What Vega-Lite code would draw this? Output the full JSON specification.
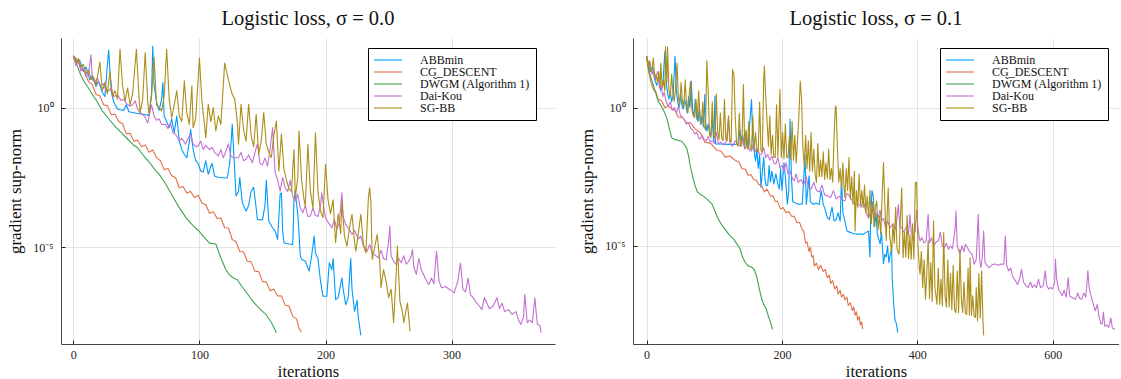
{
  "$schema": "https://vega.github.io/schema/vega-lite/v6.json",
  "background": "white",
  "padding": {"left": 6, "top": 8, "right": 0, "bottom": 0},
  "spacing": 23,
  "config": {
    "font": "Liberation Serif",
    "view": {"stroke": null},
    "range": {"category": ["#009AFA", "#E36F47", "#3EA44E", "#C371D2", "#AC8E18"]},
    "axis": {
      "labelFont": "Liberation Serif", "labelFontSize": 12, "labelColor": "#222",
      "titleFont": "Liberation Serif", "titleFontSize": 17, "titleFontWeight": "normal", "titleColor": "#111",
      "gridColor": "#e3e3e3", "gridWidth": 1,
      "domainColor": "#444", "domainWidth": 1,
      "tickColor": "#222", "tickSize": -4, "tickWidth": 1
    },
    "axisX": {"labelPadding": 9, "titlePadding": 3, "titleFontSize": 16.5, "labelFlush": false},
    "axisY": {"labelPadding": 12, "titlePadding": 8},
    "title": {"font": "Liberation Serif", "fontSize": 20.5, "fontWeight": "normal", "color": "#111", "anchor": "middle", "frame": "group", "baseline": "alphabetic", "offset": 9},
    "line": {"strokeWidth": 1.1, "strokeJoin": "round", "clip": true},
    "legend": {
      "orient": "none", "legendX": 307, "legendY": 10, "direction": "vertical",
      "fillColor": "white", "strokeColor": "black", "strokeWidth": 1, "padding": 6, "cornerRadius": 0,
      "symbolType": "M-3.5,0H3.5", "symbolSize": 64, "symbolStrokeWidth": 1.2, "symbolOffset": 8,
      "labelFont": "Liberation Serif", "labelFontSize": 12, "labelColor": "#111", "labelOffset": 26, "rowPadding": -1.2, "labelLimit": 300
    }
  },
  "datasets": {
    "a0": [{"i":0,"g":70.8},{"i":3,"g":39.8},{"i":5,"g":50.1},{"i":8,"g":20},{"i":10,"g":28.2},{"i":13,"g":10},{"i":15,"g":14.1},{"i":18,"g":5.62},{"i":20,"g":8.91},{"i":23,"g":3.55},{"i":25,"g":2.51},{"i":28,"g":115},{"i":30,"g":3.98},{"i":32,"g":1.58},{"i":35,"g":0.891},{"i":37,"g":0.832},{"i":40,"g":0.794},{"i":42,"g":1.26},{"i":44,"g":0.708},{"i":50,"g":0.631},{"i":56,"g":0.562},{"i":60,"g":0.525},{"i":62,"g":3.16},{"i":63,"g":155},{"i":64,"g":6.31},{"i":66,"g":1.58},{"i":68,"g":0.794},{"i":70,"g":2},{"i":71,"g":7.94},{"i":72,"g":0.501},{"i":74,"g":0.316},{"i":76,"g":0.191},{"i":78,"g":0.398},{"i":80,"g":0.126},{"i":82,"g":0.501},{"i":84,"g":0.0631},{"i":86,"g":0.0316},{"i":88,"g":0.0214},{"i":90,"g":0.0162},{"i":92,"g":0.0631},{"i":93,"g":0.166},{"i":95,"g":0.0316},{"i":97,"g":0.0126},{"i":99,"g":0.01},{"i":101,"g":5.37e-3},{"i":103,"g":5.01e-3},{"i":105,"g":0.0126},{"i":107,"g":4.07e-3},{"i":109,"g":7.94e-3},{"i":110,"g":0.01},{"i":112,"g":3.55e-3},{"i":115,"g":3.16e-3},{"i":118,"g":3.09e-3},{"i":122,"g":3.02e-3},{"i":124,"g":0.01},{"i":126,"g":0.251},{"i":128,"g":5.01e-3},{"i":129,"g":6.92e-4},{"i":131,"g":1e-3},{"i":132,"g":3.16e-3},{"i":134,"g":3.98e-4},{"i":137,"g":2e-4},{"i":139,"g":3.16e-4},{"i":141,"g":1e-3},{"i":143,"g":1.41e-3},{"i":145,"g":2.51e-4},{"i":146,"g":1e-4},{"i":150,"g":9.55e-5},{"i":152,"g":3.16e-4},{"i":153,"g":2.51e-3},{"i":155,"g":8.71e-5},{"i":158,"g":5.01e-5},{"i":160,"g":3.8e-5},{"i":162,"g":1.91e-5},{"i":164,"g":7.94e-4},{"i":165,"g":8.91e-4},{"i":166,"g":3.98e-5},{"i":167,"g":1.45e-5},{"i":171,"g":1.32e-5},{"i":174,"g":1.26e-5},{"i":175,"g":4.57e-4},{"i":176,"g":1e-3},{"i":178,"g":1.58e-4},{"i":180,"g":5.01e-6},{"i":181,"g":3.72e-6},{"i":184,"g":3.16e-6},{"i":187,"g":1.41e-6},{"i":189,"g":5.01e-6},{"i":191,"g":2.51e-5},{"i":192,"g":6.31e-6},{"i":194,"g":3.98e-6},{"i":196,"g":6.31e-7},{"i":198,"g":1.78e-7},{"i":201,"g":1.78e-7},{"i":203,"g":2.82e-6},{"i":205,"g":1.58e-6},{"i":206,"g":3.98e-6},{"i":208,"g":1.35e-7},{"i":210,"g":1.58e-7},{"i":213,"g":8.13e-7},{"i":214,"g":3.16e-7},{"i":216,"g":8.91e-8},{"i":218,"g":1.58e-7},{"i":220,"g":3.98e-6},{"i":221,"g":3.16e-7},{"i":223,"g":5.13e-8},{"i":225,"g":1.26e-7},{"i":226,"g":3.16e-8},{"i":228,"g":7.08e-9}],
    "c0": [{"i":0,"g":70.8},{"i":3,"g":52.5},{"i":6,"g":24},{"i":9,"g":19.1},{"i":12,"g":8.51},{"i":15,"g":6.61},{"i":18,"g":2.95},{"i":21,"g":2.63},{"i":24,"g":1.26},{"i":27,"g":1.15},{"i":30,"g":0.562},{"i":33,"g":0.575},{"i":36,"g":0.316},{"i":39,"g":0.263},{"i":42,"g":0.117},{"i":45,"g":0.12},{"i":48,"g":0.0631},{"i":51,"g":0.0676},{"i":54,"g":0.0398},{"i":57,"g":0.0457},{"i":60,"g":0.0251},{"i":63,"g":0.0302},{"i":66,"g":0.0158},{"i":69,"g":0.0126},{"i":72,"g":6.03e-3},{"i":75,"g":6.61e-3},{"i":78,"g":3.63e-3},{"i":81,"g":3.16e-3},{"i":84,"g":1.35e-3},{"i":87,"g":1.51e-3},{"i":90,"g":8.71e-4},{"i":93,"g":1e-3},{"i":96,"g":6.03e-4},{"i":99,"g":7.24e-4},{"i":102,"g":3.8e-4},{"i":105,"g":3.39e-4},{"i":108,"g":1.66e-4},{"i":111,"g":1.86e-4},{"i":114,"g":1.07e-4},{"i":117,"g":1.12e-4},{"i":120,"g":5.01e-5},{"i":123,"g":4.9e-5},{"i":126,"g":1.91e-5},{"i":129,"g":1.58e-5},{"i":132,"g":7.08e-6},{"i":135,"g":6.76e-6},{"i":138,"g":3.16e-6},{"i":141,"g":3.02e-6},{"i":144,"g":1.41e-6},{"i":147,"g":1.35e-6},{"i":150,"g":6.03e-7},{"i":153,"g":5.75e-7},{"i":156,"g":2.82e-7},{"i":159,"g":3.16e-7},{"i":162,"g":1.82e-7},{"i":165,"g":1.86e-7},{"i":168,"g":8.51e-8},{"i":171,"g":7.94e-8},{"i":174,"g":3.39e-8},{"i":177,"g":2.75e-8},{"i":179,"g":1.26e-8},{"i":181,"g":9.33e-9}],
    "d0": [{"i":0,"g":70.8},{"i":3,"g":31.6},{"i":6,"g":14.1},{"i":9,"g":7.94},{"i":12,"g":5.01},{"i":15,"g":3.02},{"i":19,"g":1.58},{"i":23,"g":0.759},{"i":28,"g":0.398},{"i":34,"g":0.191},{"i":38,"g":0.126},{"i":42,"g":0.0832},{"i":48,"g":0.0447},{"i":51,"g":0.0363},{"i":55,"g":0.0209},{"i":61,"g":0.01},{"i":65,"g":5.75e-3},{"i":68,"g":4.17e-3},{"i":73,"g":1.91e-3},{"i":79,"g":6.31e-4},{"i":84,"g":2.63e-4},{"i":89,"g":1.2e-4},{"i":94,"g":6.61e-5},{"i":100,"g":3.63e-5},{"i":104,"g":2.24e-5},{"i":108,"g":1.41e-5},{"i":113,"g":1.32e-5},{"i":117,"g":4.17e-6},{"i":121,"g":1.58e-6},{"i":124,"g":1e-6},{"i":127,"g":7.94e-7},{"i":130,"g":6.92e-7},{"i":134,"g":3.8e-7},{"i":137,"g":2.51e-7},{"i":141,"g":1.41e-7},{"i":145,"g":8.5e-8},{"i":149,"g":5.62e-8},{"i":153,"g":3.8e-8},{"i":157,"g":2.09e-8},{"i":161,"g":8.71e-9}],
    "k0": [{"i":0,"g":70.8},{"i":2,"g":31.6},{"i":4,"g":50.1},{"i":6,"g":20},{"i":8,"g":25.1},{"i":10,"g":12.6},{"i":12,"g":15.8},{"i":14,"g":77.6},{"i":15,"g":10},{"i":17,"g":7.94},{"i":19,"g":11.2},{"i":21,"g":6.31},{"i":24,"g":7.08},{"i":26,"g":3.98},{"i":28,"g":3.98},{"i":30,"g":5.01},{"i":32,"g":2.51},{"i":35,"g":2.82},{"i":38,"g":1.78},{"i":40,"g":2},{"i":42,"g":1.41},{"i":45,"g":1.12},{"i":47,"g":1.26},{"i":49,"g":1.74},{"i":51,"g":0.891},{"i":53,"g":0.631},{"i":55,"g":0.575},{"i":57,"g":0.447},{"i":59,"g":0.282},{"i":61,"g":0.794},{"i":62,"g":1.26},{"i":64,"g":0.501},{"i":66,"g":0.355},{"i":68,"g":0.398},{"i":70,"g":0.251},{"i":73,"g":0.251},{"i":75,"g":0.178},{"i":77,"g":0.282},{"i":79,"g":0.126},{"i":81,"g":0.112},{"i":84,"g":0.0646},{"i":86,"g":0.0794},{"i":89,"g":0.049},{"i":91,"g":0.0794},{"i":93,"g":0.112},{"i":95,"g":0.0501},{"i":97,"g":0.0398},{"i":99,"g":0.0427},{"i":101,"g":0.0631},{"i":103,"g":0.0316},{"i":105,"g":0.0447},{"i":108,"g":0.0316},{"i":110,"g":0.0372},{"i":112,"g":0.0251},{"i":115,"g":0.0186},{"i":117,"g":0.0316},{"i":119,"g":0.0158},{"i":121,"g":0.0282},{"i":123,"g":0.0501},{"i":125,"g":0.0178},{"i":128,"g":0.0158},{"i":131,"g":0.0162},{"i":133,"g":0.0251},{"i":135,"g":0.0126},{"i":137,"g":0.0141},{"i":139,"g":0.02},{"i":142,"g":0.0107},{"i":144,"g":0.0251},{"i":146,"g":0.0501},{"i":148,"g":0.01},{"i":150,"g":8.91e-3},{"i":152,"g":0.0158},{"i":154,"g":7.94e-3},{"i":156,"g":0.0316},{"i":158,"g":0.191},{"i":160,"g":5.01e-3},{"i":162,"g":2.51e-3},{"i":164,"g":1.02e-3},{"i":166,"g":3.16e-3},{"i":168,"g":1.35e-3},{"i":170,"g":1e-3},{"i":172,"g":2.51e-3},{"i":174,"g":6.31e-4},{"i":176,"g":4.57e-4},{"i":178,"g":7.94e-4},{"i":180,"g":2.51e-4},{"i":182,"g":1.74e-4},{"i":184,"g":3.16e-4},{"i":186,"g":1.26e-4},{"i":188,"g":1.32e-4},{"i":190,"g":2.51e-4},{"i":192,"g":1.41e-4},{"i":194,"g":1.26e-4},{"i":196,"g":3.16e-4},{"i":197,"g":8.91e-4},{"i":199,"g":2e-4},{"i":200,"g":1.15e-4},{"i":202,"g":7.94e-5},{"i":205,"g":5.01e-5},{"i":207,"g":1e-4},{"i":209,"g":4.47e-5},{"i":211,"g":7.94e-5},{"i":213,"g":8.91e-4},{"i":214,"g":1.26e-4},{"i":216,"g":6.61e-5},{"i":218,"g":5.01e-5},{"i":221,"g":2.88e-5},{"i":223,"g":3.98e-5},{"i":226,"g":2e-5},{"i":228,"g":2.51e-5},{"i":230,"g":1.12e-5},{"i":233,"g":7.24e-6},{"i":235,"g":1.26e-5},{"i":237,"g":6.31e-6},{"i":240,"g":5.01e-6},{"i":242,"g":4.17e-6},{"i":244,"g":7.94e-6},{"i":246,"g":3.98e-6},{"i":248,"g":3.55e-6},{"i":250,"g":1.58e-5},{"i":251,"g":5.75e-5},{"i":252,"g":5.01e-6},{"i":254,"g":3.16e-6},{"i":256,"g":2.45e-6},{"i":258,"g":3.98e-6},{"i":260,"g":2.82e-6},{"i":262,"g":5.01e-6},{"i":264,"g":2.51e-6},{"i":266,"g":3.16e-6},{"i":268,"g":5.01e-6},{"i":269,"g":8.32e-6},{"i":270,"g":2e-6},{"i":272,"g":1.07e-6},{"i":274,"g":3.98e-6},{"i":276,"g":1.58e-6},{"i":278,"g":1e-6},{"i":280,"g":6.31e-7},{"i":282,"g":4.68e-7},{"i":284,"g":7.94e-7},{"i":286,"g":5.01e-7},{"i":288,"g":7.24e-6},{"i":290,"g":6.31e-7},{"i":292,"g":3.55e-7},{"i":295,"g":3.98e-7},{"i":298,"g":3.16e-7},{"i":300,"g":2.82e-7},{"i":302,"g":2.34e-7},{"i":305,"g":6.31e-7},{"i":307,"g":2.75e-6},{"i":309,"g":3.16e-7},{"i":311,"g":2.51e-7},{"i":313,"g":7.94e-7},{"i":315,"g":2e-7},{"i":317,"g":1.58e-7},{"i":320,"g":1e-7},{"i":322,"g":7.94e-8},{"i":324,"g":5.89e-8},{"i":326,"g":1.58e-7},{"i":328,"g":1e-7},{"i":330,"g":6.31e-8},{"i":333,"g":7.94e-8},{"i":336,"g":1.58e-7},{"i":338,"g":6.31e-8},{"i":340,"g":1e-7},{"i":342,"g":5.01e-8},{"i":345,"g":5.89e-8},{"i":348,"g":3.98e-8},{"i":351,"g":5.01e-8},{"i":353,"g":2.51e-8},{"i":355,"g":1.74e-8},{"i":357,"g":3.16e-8},{"i":358,"g":2.04e-7},{"i":360,"g":2e-8},{"i":362,"g":2.51e-8},{"i":364,"g":2e-8},{"i":366,"g":1.55e-7},{"i":368,"g":1.78e-8},{"i":370,"g":1.58e-8},{"i":371,"g":8.71e-9}],
    "s0": [{"i":0,"g":70.8},{"i":2,"g":39.8},{"i":4,"g":56.2},{"i":6,"g":28.2},{"i":8,"g":35.5},{"i":10,"g":15.8},{"i":12,"g":22.4},{"i":14,"g":10},{"i":16,"g":12.6},{"i":18,"g":6.31},{"i":21,"g":42.7},{"i":23,"g":3.98},{"i":25,"g":7.94},{"i":27,"g":3.16},{"i":29,"g":20},{"i":31,"g":2.51},{"i":33,"g":3.98},{"i":35,"g":2},{"i":37,"g":123},{"i":39,"g":6.31},{"i":41,"g":1.74},{"i":43,"g":5.01},{"i":45,"g":1.26},{"i":47,"g":3.16},{"i":50,"g":123},{"i":52,"g":2.51},{"i":53,"g":0.661},{"i":55,"g":2},{"i":57,"g":93.3},{"i":59,"g":1.58},{"i":60,"g":0.575},{"i":62,"g":2.51},{"i":64,"g":63.1},{"i":66,"g":1.26},{"i":68,"g":1},{"i":70,"g":0.759},{"i":72,"g":2.51},{"i":74,"g":123},{"i":76,"g":2},{"i":78,"g":0.437},{"i":80,"g":1.26},{"i":82,"g":3.98},{"i":84,"g":0.501},{"i":86,"g":0.316},{"i":88,"g":9.12},{"i":90,"g":0.631},{"i":92,"g":0.251},{"i":94,"g":6.03},{"i":95,"g":0.191},{"i":97,"g":0.398},{"i":100,"g":58.9},{"i":102,"g":1.58},{"i":104,"g":0.251},{"i":105,"g":0.0832},{"i":107,"g":1.32},{"i":109,"g":0.316},{"i":111,"g":1},{"i":113,"g":0.145},{"i":115,"g":0.501},{"i":117,"g":0.251},{"i":120,"g":38.9},{"i":122,"g":15.8},{"i":124,"g":6.31},{"i":126,"g":3.02},{"i":128,"g":2},{"i":130,"g":0.316},{"i":131,"g":0.049},{"i":133,"g":1.32},{"i":135,"g":0.158},{"i":137,"g":0.0631},{"i":139,"g":1.32},{"i":141,"g":0.1},{"i":143,"g":0.0398},{"i":145,"g":0.575},{"i":147,"g":0.0214},{"i":149,"g":0.0631},{"i":151,"g":0.661},{"i":153,"g":0.0501},{"i":155,"g":0.0251},{"i":157,"g":0.0162},{"i":159,"g":0.1},{"i":161,"g":0.331},{"i":163,"g":5.37e-3},{"i":165,"g":0.112},{"i":167,"g":6.31e-3},{"i":169,"g":2.51e-3},{"i":171,"g":1.26e-3},{"i":173,"g":1e-3},{"i":175,"g":0.0316},{"i":176,"g":5.89e-4},{"i":178,"g":3.16e-3},{"i":179,"g":0.145},{"i":181,"g":2.51e-3},{"i":183,"g":5.01e-4},{"i":184,"g":3.02e-4},{"i":186,"g":0.049},{"i":188,"g":1e-3},{"i":190,"g":2.51e-4},{"i":192,"g":0.126},{"i":194,"g":1e-3},{"i":196,"g":2e-4},{"i":198,"g":1.15e-4},{"i":200,"g":9.33e-3},{"i":202,"g":5.01e-4},{"i":204,"g":1.58e-4},{"i":206,"g":5.01e-4},{"i":208,"g":1.45e-5},{"i":210,"g":1.58e-4},{"i":212,"g":3.16e-5},{"i":213,"g":4.57e-4},{"i":215,"g":2.51e-5},{"i":217,"g":1.1e-5},{"i":219,"g":5.01e-5},{"i":221,"g":1.51e-4},{"i":223,"g":1.58e-5},{"i":224,"g":7.24e-6},{"i":226,"g":3.16e-5},{"i":228,"g":1.51e-4},{"i":230,"g":1.26e-5},{"i":232,"g":6.31e-6},{"i":234,"g":5.89e-4},{"i":235,"g":1.35e-3},{"i":236,"g":3.98e-4},{"i":237,"g":3.72e-6},{"i":239,"g":1e-5},{"i":241,"g":2.88e-5},{"i":243,"g":3.16e-6},{"i":244,"g":3.55e-7},{"i":246,"g":1.58e-6},{"i":248,"g":6.31e-7},{"i":250,"g":1.58e-7},{"i":252,"g":3.16e-7},{"i":254,"g":2e-8},{"i":256,"g":1e-6},{"i":257,"g":1.1e-5},{"i":259,"g":1.17e-7},{"i":261,"g":5.01e-8},{"i":262,"g":2e-8},{"i":264,"g":6.31e-8},{"i":265,"g":1.02e-7},{"i":267,"g":1e-8}],
    "a1": [{"i":0,"g":70.8},{"i":3,"g":31.6},{"i":6,"g":20},{"i":9,"g":28.2},{"i":12,"g":10},{"i":15,"g":6.31},{"i":18,"g":12.6},{"i":21,"g":3.98},{"i":24,"g":6.31},{"i":27,"g":107},{"i":29,"g":7.94},{"i":31,"g":3.16},{"i":33,"g":2},{"i":35,"g":3.98},{"i":37,"g":1.58},{"i":39,"g":2.51},{"i":42,"g":70.8},{"i":44,"g":3.98},{"i":46,"g":1.58},{"i":48,"g":1},{"i":50,"g":3.16},{"i":52,"g":1.26},{"i":54,"g":0.871},{"i":56,"g":2},{"i":58,"g":1.26},{"i":60,"g":0.631},{"i":62,"g":2.51},{"i":64,"g":1},{"i":66,"g":8.91},{"i":68,"g":0.794},{"i":70,"g":0.501},{"i":72,"g":2},{"i":74,"g":0.398},{"i":76,"g":0.316},{"i":78,"g":1},{"i":80,"g":0.251},{"i":82,"g":0.501},{"i":84,"g":0.2},{"i":86,"g":2.95},{"i":87,"g":0.316},{"i":89,"g":0.141},{"i":91,"g":0.251},{"i":93,"g":0.126},{"i":95,"g":0.1},{"i":97,"g":0.398},{"i":99,"g":0.0631},{"i":101,"g":2.57},{"i":102,"g":0.0479},{"i":110,"g":0.0479},{"i":120,"g":0.0468},{"i":130,"g":0.0468},{"i":136,"g":0.0479},{"i":138,"g":0.158},{"i":140,"g":0.0631},{"i":142,"g":0.1},{"i":144,"g":0.0398},{"i":146,"g":0.126},{"i":148,"g":0.0398},{"i":150,"g":0.0355},{"i":152,"g":0.2},{"i":155,"g":1.95},{"i":157,"g":0.0631},{"i":159,"g":0.0251},{"i":161,"g":0.0117},{"i":163,"g":0.0316},{"i":165,"g":6.31e-3},{"i":167,"g":0.02},{"i":169,"g":1.29e-3},{"i":171,"g":5.01e-3},{"i":173,"g":0.0158},{"i":175,"g":2.51e-3},{"i":177,"g":1.48e-3},{"i":179,"g":1.58e-3},{"i":181,"g":7.94e-3},{"i":183,"g":2e-3},{"i":185,"g":5.01e-3},{"i":188,"g":1.74e-3},{"i":191,"g":3.98e-3},{"i":194,"g":1.74e-3},{"i":196,"g":1.12e-3},{"i":198,"g":6.31e-3},{"i":200,"g":1e-3},{"i":203,"g":0.01},{"i":205,"g":3.16e-3},{"i":208,"g":3.24e-4},{"i":210,"g":1e-3},{"i":212,"g":0.38},{"i":214,"g":3.16e-3},{"i":216,"g":3.98e-4},{"i":220,"g":3.55e-4},{"i":225,"g":3.16e-4},{"i":230,"g":3.31e-4},{"i":234,"g":0.0182},{"i":236,"g":3.16e-4},{"i":238,"g":1e-3},{"i":240,"g":3.39e-3},{"i":242,"g":3.98e-4},{"i":246,"g":3.16e-4},{"i":250,"g":3.55e-4},{"i":255,"g":3.16e-4},{"i":258,"g":1e-3},{"i":261,"g":3.24e-4},{"i":264,"g":2e-4},{"i":267,"g":1.05e-4},{"i":270,"g":8.91e-5},{"i":274,"g":2.51e-4},{"i":277,"g":7.94e-5},{"i":280,"g":8.91e-5},{"i":283,"g":1.58e-4},{"i":286,"g":7.94e-5},{"i":288,"g":2.95e-3},{"i":290,"g":1.58e-4},{"i":293,"g":7.94e-5},{"i":296,"g":3.47e-5},{"i":300,"g":3.16e-5},{"i":305,"g":2.82e-5},{"i":310,"g":2.63e-5},{"i":315,"g":2.75e-5},{"i":320,"g":2.63e-5},{"i":325,"g":3.16e-5},{"i":328,"g":3.47e-5},{"i":330,"g":3.98e-6},{"i":331,"g":1e-4},{"i":333,"g":1e-3},{"i":335,"g":6.31e-4},{"i":337,"g":5.01e-5},{"i":339,"g":1.58e-4},{"i":341,"g":2.51e-5},{"i":345,"g":1.2e-5},{"i":347,"g":3.16e-5},{"i":350,"g":2.29e-6},{"i":352,"g":5.01e-6},{"i":354,"g":3.98e-6},{"i":356,"g":1e-5},{"i":358,"g":2.51e-6},{"i":360,"g":5.01e-6},{"i":362,"g":7.94e-6},{"i":363,"g":6.31e-7},{"i":365,"g":8.32e-8},{"i":367,"g":2.09e-8},{"i":369,"g":1.58e-8},{"i":371,"g":7.59e-9}],
    "c1": [{"i":0,"g":70.8},{"i":3,"g":20},{"i":6,"g":8.91},{"i":10,"g":4.47},{"i":14,"g":3.55},{"i":17,"g":2},{"i":22,"g":1.74},{"i":27,"g":1},{"i":32,"g":1.12},{"i":37,"g":0.891},{"i":42,"g":0.794},{"i":47,"g":0.447},{"i":53,"g":0.437},{"i":59,"g":0.282},{"i":65,"g":0.282},{"i":72,"g":0.166},{"i":79,"g":0.126},{"i":86,"g":0.0562},{"i":95,"g":0.0501},{"i":104,"g":0.0282},{"i":110,"g":0.0269},{"i":116,"g":0.0162},{"i":123,"g":0.0178},{"i":131,"g":0.0123},{"i":136,"g":0.0112},{"i":141,"g":6.17e-3},{"i":146,"g":5.89e-3},{"i":150,"g":3.55e-3},{"i":154,"g":3.8e-3},{"i":158,"g":2.51e-3},{"i":162,"g":2.4e-3},{"i":165,"g":1.74e-3},{"i":170,"g":1.48e-3},{"i":174,"g":8.91e-4},{"i":178,"g":1.12e-3},{"i":183,"g":6.31e-4},{"i":187,"g":6.31e-4},{"i":190,"g":3.98e-4},{"i":193,"g":4.17e-4},{"i":198,"g":2.19e-4},{"i":202,"g":2.4e-4},{"i":206,"g":1.58e-4},{"i":210,"g":1.74e-4},{"i":214,"g":1.2e-4},{"i":218,"g":1.17e-4},{"i":222,"g":7.08e-5},{"i":226,"g":7.08e-5},{"i":230,"g":3.8e-5},{"i":232,"g":3.55e-5},{"i":235,"g":1.26e-5},{"i":237,"g":1.41e-5},{"i":240,"g":6.31e-6},{"i":242,"g":8.91e-6},{"i":244,"g":3.98e-6},{"i":246,"g":4.47e-6},{"i":248,"g":1.91e-6},{"i":251,"g":2.4e-6},{"i":254,"g":1.41e-6},{"i":257,"g":2e-6},{"i":261,"g":1.2e-6},{"i":264,"g":1.41e-6},{"i":267,"g":7.08e-7},{"i":270,"g":8.91e-7},{"i":272,"g":4.47e-7},{"i":275,"g":5.62e-7},{"i":278,"g":2.82e-7},{"i":281,"g":3.55e-7},{"i":283,"g":1.86e-7},{"i":286,"g":2.51e-7},{"i":288,"g":1.41e-7},{"i":291,"g":1.78e-7},{"i":293,"g":1.12e-7},{"i":296,"g":1.41e-7},{"i":298,"g":7.08e-8},{"i":301,"g":8.91e-8},{"i":304,"g":4.68e-8},{"i":306,"g":6.31e-8},{"i":308,"g":3.16e-8},{"i":310,"g":4.17e-8},{"i":312,"g":2.09e-8},{"i":314,"g":2.82e-8},{"i":316,"g":1.41e-8},{"i":318,"g":1.78e-8},{"i":319,"g":9.77e-9}],
    "d1": [{"i":0,"g":70.8},{"i":2,"g":31.6},{"i":5,"g":15.5},{"i":8,"g":8.91},{"i":12,"g":4.47},{"i":15,"g":2.51},{"i":17,"g":1.7},{"i":20,"g":1.32},{"i":22,"g":1.12},{"i":26,"g":0.708},{"i":30,"g":0.398},{"i":33,"g":0.2},{"i":37,"g":0.0813},{"i":41,"g":0.0708},{"i":46,"g":0.0661},{"i":52,"g":0.0603},{"i":56,"g":0.0447},{"i":59,"g":0.0355},{"i":62,"g":0.0178},{"i":64,"g":9.12e-3},{"i":68,"g":3.16e-3},{"i":72,"g":1.41e-3},{"i":75,"g":8.91e-4},{"i":79,"g":7.41e-4},{"i":84,"g":6.31e-4},{"i":88,"g":5.25e-4},{"i":93,"g":3.98e-4},{"i":97,"g":3.16e-4},{"i":101,"g":1.78e-4},{"i":105,"g":1.05e-4},{"i":110,"g":6.31e-5},{"i":116,"g":3.98e-5},{"i":122,"g":2.51e-5},{"i":129,"g":1.74e-5},{"i":134,"g":1.12e-5},{"i":138,"g":7.94e-6},{"i":142,"g":3.8e-6},{"i":146,"g":2.51e-6},{"i":150,"g":1.91e-6},{"i":155,"g":1.74e-6},{"i":159,"g":1.41e-6},{"i":163,"g":7.24e-7},{"i":167,"g":2.51e-7},{"i":171,"g":1.02e-7},{"i":174,"g":7.08e-8},{"i":177,"g":5.13e-8},{"i":180,"g":2.82e-8},{"i":183,"g":1.78e-8},{"i":186,"g":9.77e-9}],
    "k1": [{"i":0,"g":70.8},{"i":3,"g":31.6},{"i":5,"g":44.7},{"i":8,"g":15.8},{"i":10,"g":22.4},{"i":13,"g":10},{"i":15,"g":15.8},{"i":17,"g":20.4},{"i":19,"g":5.01},{"i":21,"g":6.31},{"i":24,"g":2.51},{"i":26,"g":3.55},{"i":29,"g":1.58},{"i":32,"g":1.12},{"i":35,"g":1.58},{"i":38,"g":0.794},{"i":41,"g":1},{"i":44,"g":0.631},{"i":47,"g":1.12},{"i":50,"g":0.501},{"i":53,"g":0.447},{"i":56,"g":0.355},{"i":59,"g":0.251},{"i":62,"g":0.282},{"i":65,"g":0.178},{"i":68,"g":0.158},{"i":71,"g":0.11},{"i":74,"g":0.126},{"i":77,"g":0.0794},{"i":79,"g":0.0724},{"i":82,"g":0.1},{"i":85,"g":0.0708},{"i":88,"g":0.0631},{"i":91,"g":0.0891},{"i":94,"g":0.0562},{"i":97,"g":0.0631},{"i":100,"g":0.0501},{"i":103,"g":0.126},{"i":106,"g":0.0501},{"i":110,"g":0.0562},{"i":114,"g":0.0447},{"i":118,"g":0.0631},{"i":121,"g":0.427},{"i":123,"g":0.0501},{"i":127,"g":0.0398},{"i":131,"g":0.0631},{"i":135,"g":0.0479},{"i":139,"g":0.0398},{"i":142,"g":0.0794},{"i":145,"g":0.0316},{"i":149,"g":0.0447},{"i":152,"g":0.0282},{"i":155,"g":0.0269},{"i":158,"g":0.0501},{"i":161,"g":0.0251},{"i":164,"g":0.0316},{"i":167,"g":0.02},{"i":170,"g":0.0209},{"i":173,"g":0.0355},{"i":176,"g":0.0155},{"i":179,"g":0.02},{"i":182,"g":0.0126},{"i":185,"g":0.0178},{"i":188,"g":0.01},{"i":191,"g":9.12e-3},{"i":194,"g":0.0158},{"i":197,"g":6.76e-3},{"i":200,"g":7.94e-3},{"i":203,"g":5.01e-3},{"i":206,"g":0.01},{"i":209,"g":3.98e-3},{"i":212,"g":5.01e-3},{"i":215,"g":2.95e-3},{"i":218,"g":2.24e-3},{"i":221,"g":3.98e-3},{"i":224,"g":2e-3},{"i":228,"g":2.51e-3},{"i":232,"g":1.58e-3},{"i":236,"g":3.16e-3},{"i":239,"g":1.32e-3},{"i":243,"g":1.12e-3},{"i":247,"g":2e-3},{"i":251,"g":1e-3},{"i":255,"g":8.91e-4},{"i":259,"g":1.58e-3},{"i":263,"g":7.08e-4},{"i":268,"g":6.31e-4},{"i":272,"g":5.62e-4},{"i":276,"g":1e-3},{"i":280,"g":5.01e-4},{"i":285,"g":6.31e-4},{"i":289,"g":4.47e-4},{"i":293,"g":4.27e-4},{"i":296,"g":7.94e-4},{"i":298,"g":7.24e-4},{"i":302,"g":5.01e-4},{"i":306,"g":3.55e-4},{"i":309,"g":3.24e-4},{"i":313,"g":3.16e-4},{"i":317,"g":2.51e-4},{"i":320,"g":5.01e-4},{"i":324,"g":1.58e-4},{"i":328,"g":1.05e-4},{"i":331,"g":1.58e-4},{"i":335,"g":2.75e-4},{"i":338,"g":1.26e-4},{"i":342,"g":1.05e-4},{"i":345,"g":2e-4},{"i":347,"g":7.94e-5},{"i":350,"g":1e-4},{"i":353,"g":5.01e-5},{"i":356,"g":7.94e-5},{"i":360,"g":4.57e-5},{"i":364,"g":6.31e-5},{"i":368,"g":3.98e-5},{"i":372,"g":3.16e-4},{"i":374,"g":5.01e-5},{"i":377,"g":4.57e-5},{"i":380,"g":3.16e-5},{"i":384,"g":5.01e-5},{"i":387,"g":2.51e-5},{"i":389,"g":1.38e-4},{"i":391,"g":3.16e-5},{"i":394,"g":2e-5},{"i":397,"g":3.47e-5},{"i":399,"g":2e-4},{"i":401,"g":3.98e-5},{"i":404,"g":1.51e-5},{"i":407,"g":2e-5},{"i":410,"g":1.26e-5},{"i":413,"g":1.58e-5},{"i":416,"g":1.38e-4},{"i":418,"g":1.26e-5},{"i":421,"g":2e-5},{"i":424,"g":1e-5},{"i":428,"g":1.41e-5},{"i":431,"g":1.51e-5},{"i":434,"g":3.16e-5},{"i":437,"g":1e-5},{"i":440,"g":8.91e-6},{"i":443,"g":1.26e-5},{"i":446,"g":7.59e-6},{"i":449,"g":1e-5},{"i":452,"g":7.94e-6},{"i":456,"g":4.57e-5},{"i":457,"g":1.86e-4},{"i":459,"g":1e-5},{"i":463,"g":5.01e-6},{"i":466,"g":1e-5},{"i":469,"g":6.31e-6},{"i":471,"g":1.15e-5},{"i":475,"g":7.94e-6},{"i":478,"g":5.75e-6},{"i":481,"g":5.01e-6},{"i":484,"g":2.19e-6},{"i":487,"g":3.16e-6},{"i":490,"g":1.38e-4},{"i":492,"g":3.16e-6},{"i":494,"g":1.66e-6},{"i":496,"g":3.98e-6},{"i":498,"g":3.47e-5},{"i":500,"g":2.51e-6},{"i":503,"g":2e-6},{"i":506,"g":1.66e-6},{"i":510,"g":2e-6},{"i":513,"g":2.24e-6},{"i":516,"g":2.19e-6},{"i":520,"g":2e-6},{"i":524,"g":2.24e-6},{"i":528,"g":2.19e-6},{"i":530,"g":2.29e-5},{"i":532,"g":2e-6},{"i":535,"g":1.26e-6},{"i":538,"g":1.58e-6},{"i":541,"g":7.94e-7},{"i":545,"g":5.5e-7},{"i":548,"g":4.07e-7},{"i":551,"g":6.31e-7},{"i":554,"g":1.45e-6},{"i":557,"g":5.01e-7},{"i":561,"g":3.55e-7},{"i":564,"g":3.16e-7},{"i":567,"g":5.01e-7},{"i":570,"g":3.09e-7},{"i":573,"g":3.98e-7},{"i":576,"g":3.16e-7},{"i":579,"g":6.31e-7},{"i":582,"g":3.16e-7},{"i":586,"g":3.55e-7},{"i":589,"g":1.26e-6},{"i":591,"g":3.98e-7},{"i":594,"g":2.75e-7},{"i":597,"g":3.16e-7},{"i":600,"g":2.82e-7},{"i":603,"g":5.01e-7},{"i":604,"g":3.31e-6},{"i":606,"g":6.31e-7},{"i":609,"g":2.51e-7},{"i":612,"g":2e-7},{"i":614,"g":1.58e-7},{"i":617,"g":2.51e-7},{"i":620,"g":1.41e-7},{"i":623,"g":7.24e-7},{"i":625,"g":1.58e-7},{"i":628,"g":1.41e-7},{"i":631,"g":1.26e-7},{"i":634,"g":1.2e-7},{"i":637,"g":2e-7},{"i":640,"g":1.26e-7},{"i":643,"g":1.2e-7},{"i":646,"g":2e-7},{"i":649,"g":1.41e-7},{"i":652,"g":1.26e-6},{"i":654,"g":3.16e-7},{"i":656,"g":1.82e-7},{"i":660,"g":7.94e-8},{"i":663,"g":4.57e-8},{"i":666,"g":7.94e-8},{"i":668,"g":3.16e-8},{"i":671,"g":1.58e-8},{"i":673,"g":1.51e-8},{"i":675,"g":3.98e-8},{"i":677,"g":1.26e-8},{"i":680,"g":1.41e-8},{"i":683,"g":1.15e-8},{"i":686,"g":2.51e-8},{"i":688,"g":1.12e-8},{"i":690,"g":1e-8},{"i":692,"g":1.05e-8}],
    "s1": [{"i":0,"g":70.8},{"i":2,"g":31.6},{"i":4,"g":50.1},{"i":6,"g":20},{"i":8,"g":25.1},{"i":10,"g":61.7},{"i":12,"g":12.6},{"i":14,"g":15.8},{"i":16,"g":7.94},{"i":18,"g":20},{"i":20,"g":6.31},{"i":21,"g":40.7},{"i":23,"g":5.01},{"i":25,"g":10},{"i":27,"g":3.98},{"i":28,"g":158},{"i":30,"g":7.94},{"i":31,"g":151},{"i":33,"g":3.98},{"i":35,"g":2.51},{"i":37,"g":15.8},{"i":39,"g":3.16},{"i":41,"g":1.7},{"i":43,"g":6.31},{"i":45,"g":40.7},{"i":47,"g":2},{"i":49,"g":1.26},{"i":51,"g":7.94},{"i":53,"g":1.58},{"i":55,"g":1},{"i":57,"g":10},{"i":59,"g":1.26},{"i":61,"g":0.631},{"i":63,"g":3.16},{"i":65,"g":8.91},{"i":67,"g":0.794},{"i":69,"g":0.501},{"i":71,"g":0.427},{"i":73,"g":2},{"i":75,"g":0.398},{"i":77,"g":3.98},{"i":79,"g":0.316},{"i":81,"g":0.251},{"i":83,"g":1.58},{"i":85,"g":0.2},{"i":87,"g":0.158},{"i":89,"g":49},{"i":91,"g":3.98},{"i":93,"g":0.1},{"i":95,"g":0.0813},{"i":97,"g":1.58},{"i":99,"g":0.1},{"i":101,"g":0.0794},{"i":103,"g":3.16},{"i":105,"g":0.126},{"i":107,"g":0.0708},{"i":109,"g":0.631},{"i":111,"g":0.0794},{"i":113,"g":0.0631},{"i":115,"g":2},{"i":117,"g":0.0708},{"i":119,"g":0.0631},{"i":121,"g":0.501},{"i":123,"g":0.0631},{"i":125,"g":0.0562},{"i":127,"g":23.4},{"i":129,"g":15.8},{"i":131,"g":0.398},{"i":133,"g":0.0501},{"i":135,"g":0.0398},{"i":137,"g":0.631},{"i":139,"g":0.0398},{"i":141,"g":0.0501},{"i":143,"g":6.76},{"i":145,"g":0.0355},{"i":147,"g":0.158},{"i":149,"g":0.0316},{"i":151,"g":0.316},{"i":153,"g":0.0316},{"i":155,"g":0.0316},{"i":157,"g":0.501},{"i":159,"g":0.0282},{"i":161,"g":0.126},{"i":163,"g":0.0282},{"i":165,"g":0.0251},{"i":167,"g":1.58},{"i":169,"g":0.0275},{"i":171,"g":0.0251},{"i":173,"g":10},{"i":174,"g":31.6},{"i":176,"g":2.51},{"i":178,"g":0.316},{"i":180,"g":0.0398},{"i":182,"g":0.501},{"i":184,"g":0.02},{"i":186,"g":0.1},{"i":188,"g":0.0158},{"i":190,"g":0.0158},{"i":192,"g":1.26},{"i":194,"g":0.0178},{"i":197,"g":4.47},{"i":199,"g":0.0158},{"i":201,"g":0.126},{"i":203,"g":0.0141},{"i":205,"g":0.251},{"i":207,"g":0.0158},{"i":209,"g":0.0158},{"i":211,"g":0.1},{"i":213,"g":0.0135},{"i":215,"g":0.316},{"i":217,"g":0.0126},{"i":219,"g":0.1},{"i":221,"g":0.01},{"i":223,"g":0.0631},{"i":225,"g":0.501},{"i":227,"g":9.12},{"i":229,"g":2},{"i":231,"g":0.0316},{"i":233,"g":7.94e-3},{"i":235,"g":0.1},{"i":237,"g":6.31e-3},{"i":239,"g":0.0631},{"i":241,"g":5.01e-3},{"i":243,"g":0.126},{"i":245,"g":5.01e-3},{"i":247,"g":0.0316},{"i":249,"g":3.98e-3},{"i":251,"g":1.95e-3},{"i":253,"g":0.0501},{"i":255,"g":3.16e-3},{"i":257,"g":0.0126},{"i":259,"g":3.16e-3},{"i":261,"g":0.0251},{"i":263,"g":2.51e-3},{"i":265,"g":0.01},{"i":267,"g":2.82e-3},{"i":269,"g":0.0316},{"i":271,"g":2.51e-3},{"i":273,"g":6.31e-3},{"i":275,"g":2e-3},{"i":277,"g":0.1},{"i":279,"g":1.12},{"i":280,"g":1.05},{"i":282,"g":0.0316},{"i":284,"g":2e-3},{"i":286,"g":6.31e-3},{"i":288,"g":1.26e-3},{"i":290,"g":0.01},{"i":292,"g":1e-3},{"i":293,"g":5.62e-4},{"i":295,"g":6.31e-3},{"i":297,"g":1e-3},{"i":299,"g":0.0158},{"i":301,"g":5.01e-4},{"i":303,"g":3.16e-3},{"i":305,"g":3.16e-4},{"i":307,"g":5.01e-3},{"i":308,"g":3.47e-5},{"i":310,"g":1e-3},{"i":312,"g":2.51e-4},{"i":314,"g":3.98e-3},{"i":316,"g":3.16e-4},{"i":318,"g":1e-3},{"i":320,"g":2.45e-4},{"i":322,"g":1.58e-3},{"i":324,"g":1.58e-4},{"i":326,"g":6.31e-4},{"i":328,"g":1e-4},{"i":330,"g":1e-3},{"i":332,"g":6.31e-5},{"i":334,"g":3.98e-4},{"i":336,"g":5.01e-5},{"i":338,"g":2.51e-4},{"i":340,"g":4.17e-4},{"i":342,"g":3.98e-5},{"i":344,"g":1.26e-4},{"i":346,"g":2.63e-5},{"i":348,"g":6.31e-4},{"i":350,"g":0.0102},{"i":352,"g":3.16e-4},{"i":354,"g":1.58e-5},{"i":356,"g":3.16e-4},{"i":357,"g":1.26e-3},{"i":359,"g":2.51e-5},{"i":361,"g":1e-5},{"i":362,"g":5.75e-6},{"i":364,"g":6.31e-5},{"i":366,"g":1.26e-5},{"i":368,"g":2.51e-4},{"i":370,"g":7.94e-6},{"i":373,"g":5.01e-6},{"i":375,"g":1e-4},{"i":377,"g":1.26e-3},{"i":379,"g":3.8e-6},{"i":381,"g":3.16e-5},{"i":383,"g":3.98e-6},{"i":385,"g":1.26e-4},{"i":387,"g":3.55e-6},{"i":389,"g":2.51e-5},{"i":391,"g":3.31e-6},{"i":393,"g":6.31e-5},{"i":395,"g":3.31e-6},{"i":397,"g":2e-3},{"i":399,"g":1.91e-3},{"i":401,"g":1e-5},{"i":403,"g":1.58e-6},{"i":404,"g":9.55e-7},{"i":406,"g":6.31e-6},{"i":408,"g":3.16e-7},{"i":410,"g":3.16e-6},{"i":412,"g":1.2e-7},{"i":414,"g":1e-6},{"i":416,"g":1.58e-5},{"i":418,"g":1.26e-7},{"i":420,"g":2.51e-6},{"i":422,"g":1e-7},{"i":424,"g":7.94e-5},{"i":426,"g":3.16e-7},{"i":429,"g":7.94e-8},{"i":431,"g":1.58e-6},{"i":433,"g":7.94e-8},{"i":435,"g":6.31e-7},{"i":437,"g":6.76e-8},{"i":439,"g":3.02e-5},{"i":441,"g":1.58e-7},{"i":443,"g":6.31e-8},{"i":445,"g":3.16e-6},{"i":447,"g":6.31e-8},{"i":449,"g":1e-6},{"i":451,"g":5.01e-8},{"i":453,"g":2e-6},{"i":455,"g":5.01e-8},{"i":457,"g":3.89e-8},{"i":459,"g":1.26e-6},{"i":461,"g":3.98e-8},{"i":463,"g":7.59e-6},{"i":465,"g":1.26e-7},{"i":467,"g":3.98e-8},{"i":469,"g":5.01e-7},{"i":471,"g":3.55e-8},{"i":473,"g":3.39e-8},{"i":475,"g":1.58e-6},{"i":477,"g":3.16e-8},{"i":478,"g":3.8e-6},{"i":480,"g":3.16e-8},{"i":482,"g":1.58e-7},{"i":484,"g":2.82e-8},{"i":486,"g":2.63e-8},{"i":487,"g":3.16e-7},{"i":489,"g":1.95e-8},{"i":491,"g":1e-6},{"i":493,"g":2.51e-8},{"i":495,"g":1.26e-6},{"i":497,"g":2e-8},{"i":498,"g":5.89e-9}]
  },
  "hconcat": [
    {
      "width": 494,
      "height": 306,
      "title": "Logistic loss, σ = 0.0",
      "encoding": {
        "x": {"field": "i", "type": "quantitative", "scale": {"domain": [-9.8, 382], "nice": false, "zero": false}, "axis": {"values": [0, 100, 200, 300], "title": "iterations"}},
        "y": {"field": "g", "type": "quantitative", "scale": {"type": "log", "domain": [3.47e-9, 309], "nice": false}, "axis": {"values": [1, 1e-5], "labelExpr": "datum.value > 0.01 ? '10⁰' : '10⁻⁵'", "title": "gradient sup-norm"}}
      },
      "layer": [
        {"data": {"name": "a0"}, "mark": "line", "encoding": {"color": {"datum": "ABBmin", "legend": {"title": null}}}},
        {"data": {"name": "c0"}, "mark": "line", "encoding": {"color": {"datum": "CG_DESCENT", "legend": {"title": null}}}},
        {"data": {"name": "d0"}, "mark": "line", "encoding": {"color": {"datum": "DW̃GM (Algorithm 1)", "legend": {"title": null}}}},
        {"data": {"name": "k0"}, "mark": "line", "encoding": {"color": {"datum": "Dai-Kou", "legend": {"title": null}}}},
        {"data": {"name": "s0"}, "mark": "line", "encoding": {"color": {"datum": "SG-BB", "legend": {"title": null}}}}
      ]
    },
    {
      "width": 486,
      "height": 306,
      "title": "Logistic loss, σ = 0.1",
      "encoding": {
        "x": {"field": "i", "type": "quantitative", "scale": {"domain": [-20.1, 698], "nice": false, "zero": false}, "axis": {"values": [0, 200, 400, 600], "title": "iterations"}},
        "y": {"field": "g", "type": "quantitative", "scale": {"type": "log", "domain": [2.88e-9, 324], "nice": false}, "axis": {"values": [1, 1e-5], "labelExpr": "datum.value > 0.01 ? '10⁰' : '10⁻⁵'", "title": "gradient sup-norm"}}
      },
      "layer": [
        {"data": {"name": "a1"}, "mark": "line", "encoding": {"color": {"datum": "ABBmin", "legend": {"title": null}}}},
        {"data": {"name": "c1"}, "mark": "line", "encoding": {"color": {"datum": "CG_DESCENT", "legend": {"title": null}}}},
        {"data": {"name": "d1"}, "mark": "line", "encoding": {"color": {"datum": "DW̃GM (Algorithm 1)", "legend": {"title": null}}}},
        {"data": {"name": "k1"}, "mark": "line", "encoding": {"color": {"datum": "Dai-Kou", "legend": {"title": null}}}},
        {"data": {"name": "s1"}, "mark": "line", "encoding": {"color": {"datum": "SG-BB", "legend": {"title": null}}}}
      ]
    }
  ],
  "resolve": {"legend": {"color": "independent"}}
}
